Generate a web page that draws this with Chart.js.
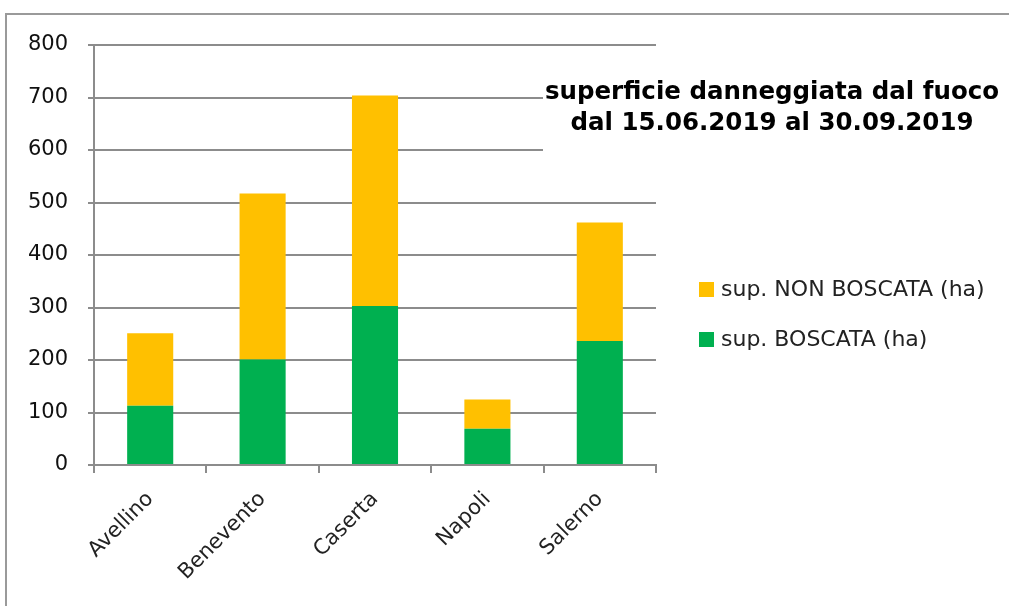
<!DOCTYPE html>
<html>
<head>
<meta charset="utf-8">
<script src="https://cdn.jsdelivr.net/npm/chart.js@4"></script>
<style>
  html, body { margin: 0; padding: 0; background: #fff; }
  #wrap { position: relative; width: 1009px; height: 606px; }
</style>
</head>
<body>
<div id="wrap"><canvas id="chart" width="1009" height="606"></canvas></div>
<script>
// data
const province = ['Avellino', 'Benevento', 'Caserta', 'Napoli', 'Salerno'];
const boscata = [113, 201, 303, 69, 236];
const nonBoscata = [138, 316, 401, 56, 226];
const seriesNames = ['sup. BOSCATA (ha)', 'sup. NON BOSCATA (ha)'];
const titleLines = ['superficie danneggiata dal fuoco', 'dal 15.06.2019 al 30.09.2019'];

const GREEN = '#00B050';
const ORANGE = '#FFC000';
const GRID = '#8c8c8c';

// frame, title box and legend drawn by hand like the excel export
const decorations = {
  id: 'decorations',
  beforeDraw(chart) {
    const ctx = chart.ctx;
    ctx.save();
    ctx.strokeStyle = '#9a9a9a';
    ctx.lineWidth = 2;
    ctx.beginPath();
    ctx.moveTo(6, 606);
    ctx.lineTo(6, 14);
    ctx.lineTo(1009, 14);
    ctx.stroke();
    ctx.restore();
  },
  afterDraw(chart) {
    const ctx = chart.ctx;
    ctx.save();
    // title box hides the grid lines behind it
    ctx.fillStyle = '#fff';
    ctx.fillRect(543, 62, 466, 100);
    ctx.fillStyle = '#000';
    ctx.font = 'bold 24.5px "DejaVu Sans"';
    ctx.textAlign = 'center';
    ctx.textBaseline = 'middle';
    ctx.fillText(titleLines[0], 772, 93);
    ctx.fillText(titleLines[1], 772, 124);

    // legend, top item is the upper series
    ctx.textAlign = 'left';
    ctx.font = '22px "DejaVu Sans"';
    const items = [
      { label: seriesNames[1], color: ORANGE, y: 289 },
      { label: seriesNames[0], color: GREEN, y: 339 }
    ];
    items.forEach((it) => {
      ctx.fillStyle = it.color;
      ctx.fillRect(699, it.y - 7, 15, 15);
      ctx.fillStyle = '#222';
      ctx.fillText(it.label, 721, it.y + 1);
    });
    ctx.restore();
  }
};

new Chart(document.getElementById('chart'), {
  type: 'bar',
  data: {
    labels: province,
    datasets: [
      { label: seriesNames[0], data: boscata, backgroundColor: GREEN },
      { label: seriesNames[1], data: nonBoscata, backgroundColor: ORANGE }
    ]
  },
  options: {
    responsive: false,
    animation: false,
    layout: { padding: { top: 45, right: 353, bottom: 0, left: 0 } },
    plugins: {
      legend: { display: false },
      tooltip: { enabled: false }
    },
    datasets: { bar: { categoryPercentage: 1, barPercentage: 0.41 } },
    scales: {
      x: {
        stacked: true,
        afterFit: (s) => { s.height = 141; },
        grid: { drawOnChartArea: false, drawTicks: true, tickLength: 8, color: GRID, lineWidth: 2 },
        border: { color: GRID, width: 2 },
        ticks: {
          color: '#222',
          font: { family: 'DejaVu Sans', size: 21 },
          minRotation: 45,
          maxRotation: 45,
          padding: 14
        }
      },
      y: {
        stacked: true,
        min: 0,
        max: 800,
        afterFit: (s) => { s.width = 94; },
        grid: { color: GRID, lineWidth: 2, tickLength: 6 },
        border: { color: GRID, width: 2 },
        ticks: {
          stepSize: 100,
          color: '#111',
          font: { family: 'DejaVu Sans', size: 21 },
          padding: 20
        }
      }
    }
  },
  plugins: [decorations]
});
</script>
</body>
</html>
